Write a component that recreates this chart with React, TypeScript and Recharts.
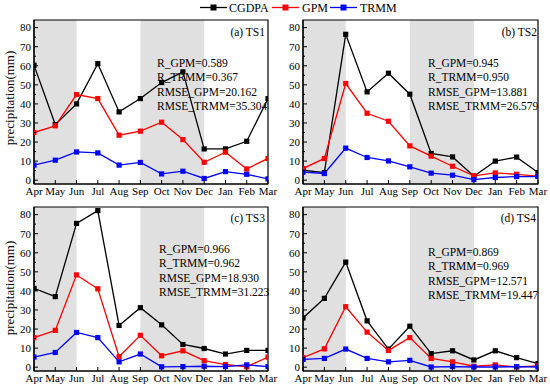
import React from 'react';
import { LineChart, Line, XAxis, YAxis, ReferenceArea } from 'recharts';

const months = ['Apr', 'May', 'Jun', 'Jul', 'Aug', 'Sep', 'Oct', 'Nov', 'Dec', 'Jan', 'Feb', 'Mar'];
const seriesNames = ['CGDPA', 'GPM', 'TRMM'];
const seriesColors = ['#000000', '#ff0000', '#0000ff'];

const ts1CGDPA = [60.3, 29.2, 40.0, 61.1, 35.8, 42.8, 51.2, 56.8, 16.4, 16.4, 20.4, 42.8];
const ts1GPM = [25.0, 28.5, 44.9, 42.8, 23.6, 25.7, 30.4, 21.3, 9.4, 14.7, 5.9, 11.4];
const ts1TRMM = [7.9, 10.5, 14.8, 14.3, 7.9, 9.3, 3.3, 4.7, 0.9, 4.5, 3.1, 0.7];

const ts2CGDPA = [5.2, 4.0, 76.5, 46.3, 56.1, 45.1, 14.0, 12.2, 2.1, 10.0, 12.1, 4.0];
const ts2GPM = [6.1, 11.4, 50.7, 35.1, 30.9, 18.0, 12.6, 7.3, 2.3, 3.8, 3.1, 2.1];
const ts2TRMM = [4.2, 3.5, 16.8, 11.9, 10.1, 7.0, 3.7, 2.6, 0.3, 1.4, 1.9, 1.9];

const ts3CGDPA = [41.3, 37.0, 75.4, 82.1, 21.9, 31.2, 22.2, 11.9, 9.8, 6.9, 8.8, 8.8];
const ts3GPM = [15.5, 19.3, 48.4, 41.1, 5.5, 16.7, 6.0, 8.6, 3.4, 1.4, 0.2, 5.3];
const ts3TRMM = [5.3, 7.7, 18.2, 15.5, 2.8, 6.9, 0.2, 0.3, 0.5, 0.3, 1.2, 0.3];

const ts4CGDPA = [25.8, 36.1, 55.1, 24.3, 9.5, 21.5, 7.1, 8.6, 3.8, 8.6, 5.0, 1.9];
const ts4GPM = [5.0, 9.6, 31.7, 18.4, 8.8, 15.5, 4.6, 2.8, 0.5, 1.2, 0.1, 0.7];
const ts4TRMM = [4.1, 4.6, 9.5, 4.6, 2.8, 3.6, 0.1, 0.3, 0.1, 0.1, 0.3, 0.1];

const panelLabels = ['(a) TS1', '(b) TS2', '(c) TS3', '(d) TS4'];
const rGPM = ['0.589', '0.945', '0.966', '0.869'];
const rTRMM = ['0.367', '0.950', '0.962', '0.969'];
const rmseGPM = ['20.162', '13.881', '18.930', '12.571'];
const rmseTRMM = ['35.304', '26.579', '31.223', '19.447'];

const yTicks = [0, 5, 10, 15, 20, 25, 30, 35, 40, 45, 50, 55, 60, 65, 70, 75, 80];
const xTicks = [0, 1, 2, 3, 4, 5, 6, 7, 8, 9, 10, 11];
const shaded = [[0, 2], [5, 8]];

const FONT = '"Liberation Serif", "Times New Roman", serif';

const panelsSeries = [
  [ts1CGDPA, ts1GPM, ts1TRMM],
  [ts2CGDPA, ts2GPM, ts2TRMM],
  [ts3CGDPA, ts3GPM, ts3TRMM],
  [ts4CGDPA, ts4GPM, ts4TRMM],
];

const buildRows = (s: number[][]) =>
  months.map((m, i) => ({ i, s0: s[0][i], s1: s[1][i], s2: s[2][i] }));

const makeSquare = (color: string) => (props: any) => {
  const { cx, cy, index } = props;
  if (cx == null || cy == null) return <g key={index} />;
  return <rect key={index} x={cx - 2.6} y={cy - 2.6} width={5.2} height={5.2} fill={color} />;
};

const YTick = (props: any) => {
  const { x, y, payload } = props;
  const v = payload.value;
  const major = v % 10 === 0;
  const ax = x + 3;
  return (
    <g>
      <line x1={ax} x2={ax + (major ? 4 : 2)} y1={y} y2={y} stroke="#000" strokeWidth={1} />
      {major && (
        <text x={x} y={y} dy="0.35em" textAnchor="end" fontFamily={FONT} fontSize={11} fill="#000">
          {v}
        </text>
      )}
    </g>
  );
};

const XTick = (props: any) => {
  const { x, y, payload } = props;
  const ay = y - 3;
  return (
    <g>
      <line x1={x} x2={x} y1={ay} y2={ay - 4} stroke="#000" strokeWidth={1} />
      <text x={x} y={y} dy="0.75em" textAnchor="middle" fontFamily={FONT} fontSize={11} fill="#000">
        {months[payload.value]}
      </text>
    </g>
  );
};

const Panel = ({ idx }: { idx: number }) => {
  const rows = buildRows(panelsSeries[idx]);
  return (
    <LineChart width={idx % 2 === 0 ? 285 : 286} height={206} data={rows}
      margin={{ top: 20, right: 17, bottom: 6, left: 0 }}>
      <XAxis dataKey="i" type="number" domain={[0, 11]} ticks={xTicks} interval={0}
        allowDataOverflow height={16} tickSize={0} tickMargin={3} tickLine={false}
        axisLine={{ stroke: '#000', strokeWidth: 1.2 }} tick={<XTick />} />
      <YAxis type="number" domain={[-2, 84]} ticks={yTicks} interval={0} allowDataOverflow
        width={34} tickSize={0} tickMargin={3} tickLine={false}
        axisLine={{ stroke: '#000', strokeWidth: 1.2 }} tick={<YTick />} />
      {shaded.map(([a, b], k) => (
        <ReferenceArea key={'s' + k} x1={a} x2={b} y1={-2} y2={84} fill="#e0e0e0" fillOpacity={1} stroke="none" />
      ))}
      <ReferenceArea x1={0} x2={11} y1={-2} y2={84} fill="none" stroke="#000" strokeWidth={1.2} strokeOpacity={1} />
      {[0, 1, 2].map((s) => (
        <Line key={s} dataKey={'s' + s} stroke={seriesColors[s]} strokeWidth={1.3}
          dot={makeSquare(seriesColors[s])} activeDot={false} isAnimationActive={false} />
      ))}
    </LineChart>
  );
};

const positions = [
  { left: 0, top: 0 },
  { left: 269, top: 0 },
  { left: 0, top: 187 },
  { left: 269, top: 187 },
];

const annot = [
  { lx: 157, ly: 63, px: 265, py: 32 },
  { lx: 428, ly: 63, px: 537, py: 32 },
  { lx: 159, ly: 249, px: 265, py: 218 },
  { lx: 428, ly: 252, px: 536, py: 218 },
];

const legendX = [200, 272, 330];
const legendTextX = [229, 302, 360];

export default function App() {
  return (
    <div style={{ position: 'absolute', left: 0, top: 0, width: 550, height: 390, background: '#fff', overflow: 'hidden' }}>
      {positions.map((p, k) => (
        <div key={k} style={{ position: 'absolute', left: p.left, top: p.top }}>
          <Panel idx={k} />
        </div>
      ))}
      <svg width={550} height={390} style={{ position: 'absolute', left: 0, top: 0, pointerEvents: 'none' }}>
        {seriesNames.map((n, s) => (
          <g key={n}>
            <line x1={legendX[s]} x2={legendX[s] + 27} y1={7.5} y2={7.5} stroke={seriesColors[s]} strokeWidth={1.3} />
            <rect x={legendX[s] + 10.5} y={4.5} width={6} height={6} fill={seriesColors[s]} />
            <text x={legendTextX[s]} y={7.5} dy="0.35em" fontFamily={FONT} fontSize={12} fill="#000">{n}</text>
          </g>
        ))}
        {annot.map((a, k) => (
          <g key={k} fontFamily={FONT} fontSize={11.5} fill="#000">
            <text x={a.px} y={a.py} dy="0.35em" textAnchor="end">{panelLabels[k]}</text>
            <text x={a.lx} y={a.ly} dy="0.35em">{'R_GPM=' + rGPM[k]}</text>
            <text x={a.lx} y={a.ly + 14.3} dy="0.35em">{'R_TRMM=' + rTRMM[k]}</text>
            <text x={a.lx} y={a.ly + 28.6} dy="0.35em">{'RMSE_GPM=' + rmseGPM[k]}</text>
            <text x={a.lx} y={a.ly + 42.9} dy="0.35em">{'RMSE_TRMM=' + rmseTRMM[k]}</text>
          </g>
        ))}
        {[98, 288].map((cy, k) => (
          <text key={k} x={9} y={cy} dy="0.35em" textAnchor="middle" transform={`rotate(-90 9 ${cy})`}
            fontFamily={FONT} fontSize={13} fill="#000">precipitation(mm)</text>
        ))}
      </svg>
    </div>
  );
}
